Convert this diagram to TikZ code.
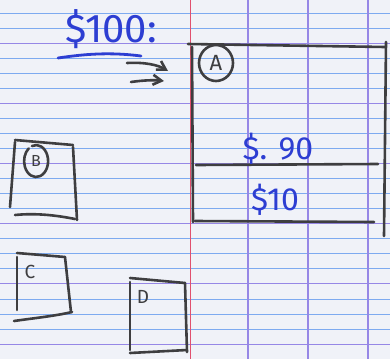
\documentclass[tikz,border=0pt]{standalone}
\usepackage{fontspec}
\setsansfont{Fira Sans}
\usetikzlibrary{arrows.meta,positioning,calc}
\definecolor{PaperBg}{RGB}{240,242,248}
\definecolor{RuleBlue}{RGB}{125,170,240}
\definecolor{RulePurple}{RGB}{150,135,230}
\definecolor{MarginRed}{RGB}{225,80,110}
\definecolor{PencilGray}{RGB}{62,62,64}
\definecolor{InkBlue}{RGB}{45,62,210}
\tikzset{
  rulebl/.style={draw=RuleBlue,line width=0.9pt},
  rulepu/.style={draw=RulePurple,line width=1.1pt},
  pencil/.style={draw=PencilGray,line width=2.6pt,line cap=round,line join=round},
  inktext/.style={text=InkBlue,font=\sffamily\fontsize{32}{34}\selectfont,inner sep=0pt},
  penciltext/.style={text=PencilGray,font=\sffamily\fontsize{19}{20}\selectfont,inner sep=0pt},
  sketcharrow/.style={pencil,-{Straight Barb[length=3mm,width=3.5mm]}}
}
\begin{document}
\begin{tikzpicture}[x=1pt,y=-1pt]
\useasboundingbox (0,0) rectangle (390,359);
% paper
\fill[PaperBg] (0,0) rectangle (390,359);
\foreach \n in {1,...,23} {
  \pgfmathsetmacro\yy{13+15.05*(\n-1)}
  \draw[rulebl] (0,\yy) -- (390,\yy);
}
\foreach \n in {3,7,...,23} {
  \pgfmathsetmacro\yy{13+15.05*(\n-1)}
  \draw[rulepu] (0,\yy) -- (390,\yy);
}
\foreach \xx in {248,308,368}
  \draw[rulepu] (\xx,0) -- (\xx,359);
\draw[MarginRed,line width=1pt] (190,0) -- (190,359);

% title
\node[inktext,font=\sffamily\fontsize{40}{42}\selectfont] (title) at (111,29) {\$100:};
\draw[InkBlue,line width=2.8pt,line cap=round] (58,58) .. controls (85,54) and (110,52) .. (141,56);

% arrows into A
\coordinate (tailUp) at (127,63);
\coordinate (headUp) at (168,71);
\coordinate (tailLo) at (131,82);
\coordinate (headLo) at (164,81);
\draw[sketcharrow] (tailUp) .. controls (145,62) and (158,65) .. (headUp);
\draw[sketcharrow] (tailLo) .. controls (145,80) and (155,80) .. (headLo);

% box A
\draw[pencil] (188,44) -- (385,47);
\draw[pencil] (192,47) -- (193,222);
\draw[pencil] (386,42) -- (384,236);
\draw[pencil] (195,221) -- (374,222);
\draw[pencil] (196,165) -- (378,164);
\node[penciltext,font=\sffamily\fontsize{22}{24}\selectfont] (lblA) at (216,63) {A};
\draw[pencil] (lblA) circle[x radius=17,y radius=18];
\node[inktext] (amtTop) at (278,149) {\$. 90};
\node[inktext] (amtBot) at (275,200) {\$10};

% box B
\draw[pencil] (15,140) -- (73,145);
\draw[pencil] (15,142) -- (10,207);
\draw[pencil] (73,147) -- (77,220);
\draw[pencil] (15,215) .. controls (35,213) and (55,215) .. (75,219);
\node[penciltext,font=\sffamily\fontsize{16}{17}\selectfont] (lblB) at (36,161) {B};
\draw[pencil] ($(lblB)+(-4,-15)$) arc[start angle=-110,end angle=232,x radius=12,y radius=16];

% box C
\draw[pencil] (17,253) -- (65,257);
\draw[pencil] (17,257) -- (17,310);
\draw[pencil] (65,257) -- (71,312);
\draw[pencil] (14,321) .. controls (35,318) and (55,316) .. (72,312);
\node[penciltext] (lblC) at (30,272) {C};

% box D
\draw[pencil] (130,278) -- (185,283);
\draw[pencil] (130,282) -- (130,350);
\draw[pencil] (185,283) -- (187,352);
\draw[pencil] (130,353) -- (187,350);
\node[penciltext] (lblD) at (143,297) {D};
\end{tikzpicture}
\end{document}
